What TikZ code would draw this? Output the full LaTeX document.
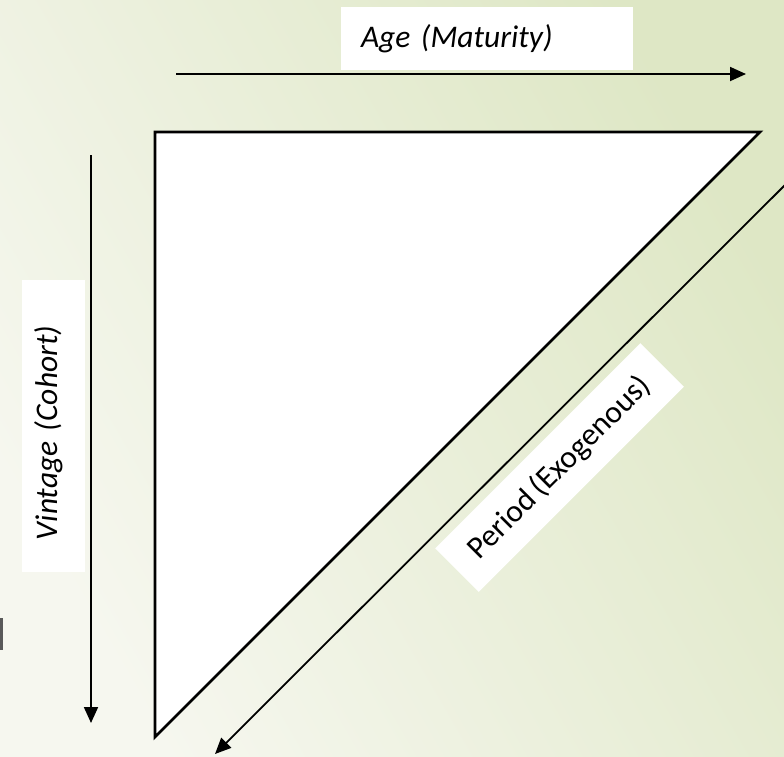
\documentclass[tikz,border=0pt]{standalone}
\usepackage{fontspec}
\setmainfont{Carlito}[WordSpace=0.8]
\usetikzlibrary{arrows.meta}

\definecolor{bgpale}{HTML}{F6F7EF}
\definecolor{bggreen}{HTML}{DEE7C5}

\tikzset{
  axisarrow/.style={line width=1.8pt, -{Triangle[length=16pt, width=14pt]}},
  labelbox/.style={fill=white, inner ysep=0pt, font=\fontsize{31.5}{38}\selectfont},
}

\begin{document}
\begin{tikzpicture}[x=1pt, y=-1pt]
    %\draw[help lines, step=50] (0, 0) grid (784, 756);
    \useasboundingbox (0, 0) rectangle (784, 756);
    \clip (0, 0) rectangle (784, 756);

    % slide background
    \shade[bottom color=bgpale, top color=bggreen, shading angle=-60] (0, 0) rectangle (784, 756);
    \fill[black!65] (0, 618) rectangle (3, 650);

    % the triangle
    \coordinate (tl) at (155, 132);
    \coordinate (tr) at (760, 132);
    \coordinate (bl) at (155, 737);
    \draw[line width=2.8pt, line join=miter, fill=white] (tl) -- (tr) -- (bl) -- cycle;

    % the three time axes
    \coordinate (ageS) at (176, 74);
    \coordinate (ageE) at (746, 74);
    \coordinate (vinS) at (91, 155);
    \coordinate (vinE) at (91, 723);
    \coordinate (perS) at (795, 175);
    \coordinate (perE) at (215, 754);
    \draw[axisarrow] (ageS) -- (ageE);
    \draw[axisarrow] (vinS) -- (vinE);
    \draw[axisarrow] (perS) -- (perE);

    \node[labelbox, align=left, inner xsep=20pt, text width=252pt, minimum height=63pt]
      (age) at (487, 38.5) {\itshape Age (Maturity)};
    \node[labelbox, rotate=90, align=left, inner xsep=32pt, text width=228pt, minimum height=63pt]
      (vintage) at (53.5, 426) {\itshape Vintage (Cohort)\rule[-16pt]{0pt}{0pt}};
    \node[labelbox, rotate=45, minimum width=290pt, minimum height=61.5pt]
      (period) at (559.5, 467.5) {Period (Exogenous)};

  \end{tikzpicture}
\end{document}
